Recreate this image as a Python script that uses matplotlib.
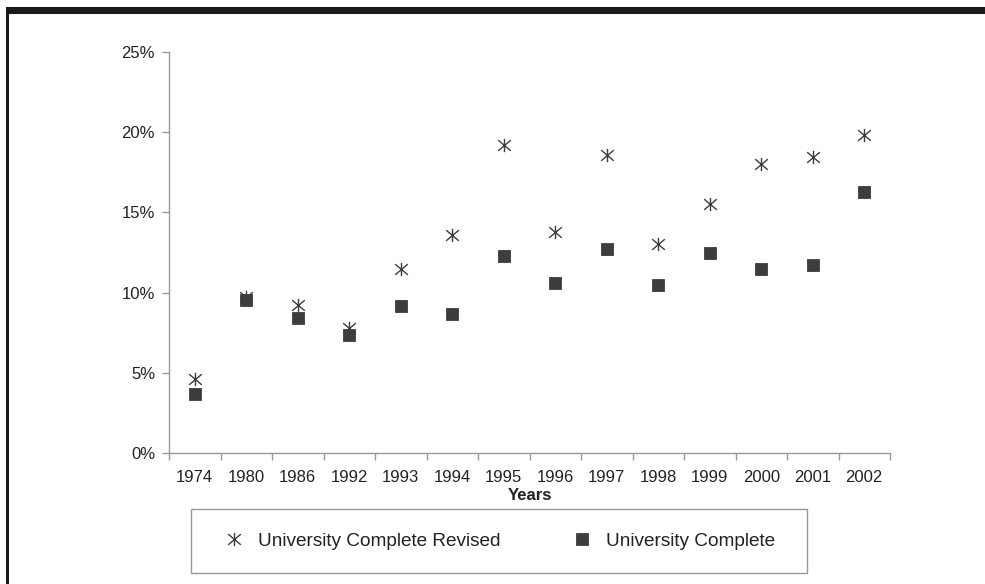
import numpy as np
import matplotlib
matplotlib.use("Agg")
import matplotlib.pyplot as plt
from matplotlib.path import Path
from matplotlib.patches import Rectangle
from matplotlib.ticker import FuncFormatter

plt.rcParams['font.family'] = ['Liberation Sans', 'DejaVu Sans']

# data (percent)
years = ['1974', '1980', '1986', '1992', '1993', '1994', '1995',
         '1996', '1997', '1998', '1999', '2000', '2001', '2002']
revised = [4.6, 9.7, 9.2, 7.8, 11.5, 13.6, 19.2, 13.8, 18.6, 13.0, 15.5, 18.0, 18.45, 19.8]
complete = [3.7, 9.55, 8.4, 7.35, 9.15, 8.65, 12.3, 10.6, 12.7, 10.5, 12.5, 11.5, 11.7, 16.3]

# excel style star: an X with a vertical stroke
star = Path([(0, -1), (0, 1), (-0.95, -0.8), (0.95, 0.8), (-0.95, 0.8), (0.95, -0.8)],
            [Path.MOVETO, Path.LINETO, Path.MOVETO, Path.LINETO, Path.MOVETO, Path.LINETO])

W, H = 985, 584
fig = plt.figure(figsize=(W / 100, H / 100), dpi=100)
ax = fig.add_axes([169 / W, (H - 453) / H, (890 - 169) / W, 401 / H])

mc = '#3d3d3d'
x = np.arange(len(years))
ax.plot(x, revised, linestyle='none', marker=star, markersize=9.6,
        markeredgewidth=1.0, color=mc, label='University Complete Revised')
ax.plot(x, complete, linestyle='none', marker='s', markersize=8.3,
        markeredgewidth=0.6, color=mc, label='University Complete')

ax.set_xlim(-0.5, len(years) - 0.5)
ax.set_ylim(0, 25)
ax.set_yticks(np.arange(0, 26, 5))
ax.yaxis.set_major_formatter(FuncFormatter(lambda v, p: f'{v:.0f}%'))
ax.set_xticks(x)
ax.set_xticklabels(years)
ax.set_xticks(np.arange(-0.5, len(years)), minor=True)
ax.tick_params(axis='x', which='major', length=0, pad=12.5)
ax.tick_params(axis='x', which='minor', length=5, color='#999999', width=1)
ax.tick_params(axis='y', length=5, color='#999999', width=1, pad=5)
ax.tick_params(labelsize=12, labelcolor='#222222')

for s in ['top', 'right']:
    ax.spines[s].set_visible(False)
for s in ['left', 'bottom']:
    ax.spines[s].set_color('#999999')
    ax.spines[s].set_linewidth(1)

ax.set_xlabel('Years', fontsize=12, fontweight='bold', color='#222222', labelpad=2)

# legend box drawn on its own, entries placed inside it
fig.patches.append(Rectangle((191 / W, (H - 573) / H), (807 - 191) / W, 64 / H,
                             transform=fig.transFigure, facecolor='white',
                             edgecolor='#999999', linewidth=1))
h, l = ax.get_legend_handles_labels()
leg = fig.legend(h, l, loc='center', ncol=2,
                 bbox_to_anchor=(500 / W, (H - 541) / H),
                 fontsize=13.7, frameon=False, handlelength=1,
                 handletextpad=0.75, columnspacing=3.8, borderaxespad=0)
for t in leg.get_texts():
    t.set_color('#222222')

# page border pieces
fig.patches.append(Rectangle((7 / W, (H - 14) / H), (W - 7) / W, 7 / H,
                             transform=fig.transFigure, facecolor='#1a1a1a',
                             edgecolor='none'))
fig.patches.append(Rectangle((6 / W, 0), 3 / W, (H - 7) / H,
                             transform=fig.transFigure, facecolor='#1a1a1a',
                             edgecolor='none'))

fig.savefig('out.png', dpi=100)
